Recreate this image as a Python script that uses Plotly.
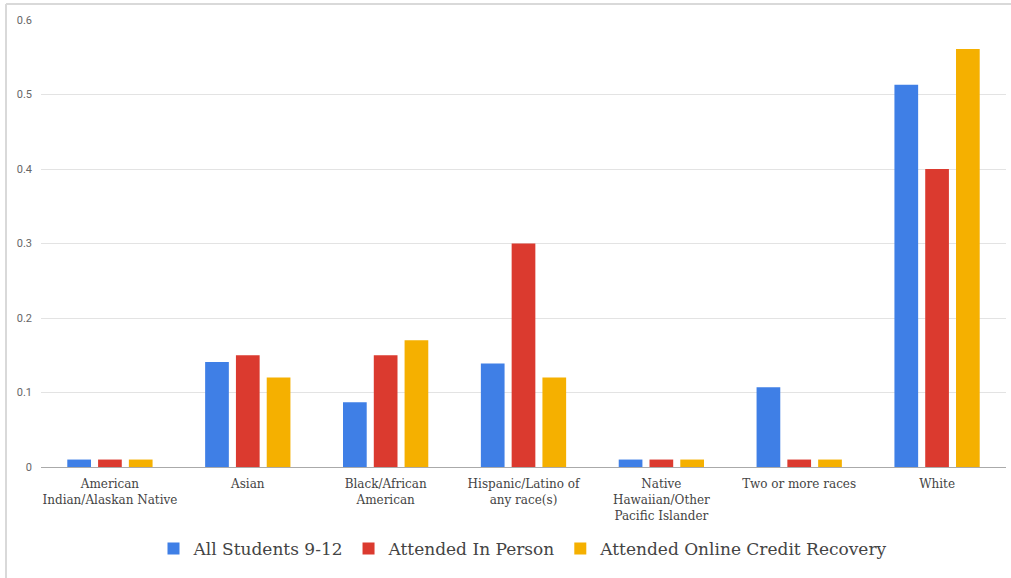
import plotly.graph_objects as go

categories = [
    "American<br>Indian/Alaskan Native",
    "Asian",
    "Black/African<br>American",
    "Hispanic/Latino of<br>any race(s)",
    "Native<br>Hawaiian/Other<br>Pacific Islander",
    "Two or more races",
    "White",
]
all_students = [0.01, 0.141, 0.087, 0.139, 0.01, 0.107, 0.513]
in_person = [0.01, 0.15, 0.15, 0.30, 0.01, 0.01, 0.40]
online_recovery = [0.01, 0.12, 0.17, 0.12, 0.01, 0.01, 0.561]

series = [
    ("All Students 9-12", all_students, "#3F7FE6"),
    ("Attended In Person", in_person, "#DB3A2F"),
    ("Attended Online Credit Recovery", online_recovery, "#F5B000"),
]

fig = go.Figure()
for name, vals, color in series:
    fig.add_trace(go.Bar(x=categories, y=vals, name=name, marker_color=color,
                         marker_line_width=0))

W, H = 1011, 578
ml, mr, mt, mb = 41, 5, 20, 111
pw, ph = W - ml - mr, H - mt - mb

# light frame around the chart card (left and top edges)
fx0 = (6 - ml) / pw
fy1 = (H - mb - 4) / ph
fy0 = (H - mb - H) / ph
fig.add_shape(type="line", xref="paper", yref="paper", x0=fx0, x1=(W - ml) / pw,
              y0=fy1, y1=fy1, line=dict(color="#d9d9d9", width=2))
fig.add_shape(type="line", xref="paper", yref="paper", x0=fx0, x1=fx0,
              y0=fy0, y1=fy1, line=dict(color="#d9d9d9", width=2))

fig.update_layout(
    width=W, height=H,
    margin=dict(l=ml, r=mr, t=mt, b=mb),
    paper_bgcolor="white", plot_bgcolor="white",
    barmode="group", bargap=0.33, bargroupgap=0.23,
    showlegend=True,
    legend=dict(orientation="h", x=0.5, xanchor="center", y=(H - mb - 549) / ph,
                yanchor="middle", font=dict(family="DejaVu Serif", size=17, color="#444"),
                itemwidth=30, tracegroupgap=0),
    xaxis=dict(showline=True, linecolor="#aaaaaa", linewidth=1, showgrid=False,
               tickfont=dict(family="DejaVu Serif", size=12, color="#444"),
               ticks="", tickangle=0, ticklabelstandoff=6),
    yaxis=dict(range=[0, 0.6], dtick=0.1, showgrid=True, gridcolor="#e3e3e3",
               zeroline=False, ticks="", ticklabelstandoff=8,
               tickfont=dict(family="Roboto", size=11, color="#666")),
)

fig.write_html("out.html")
